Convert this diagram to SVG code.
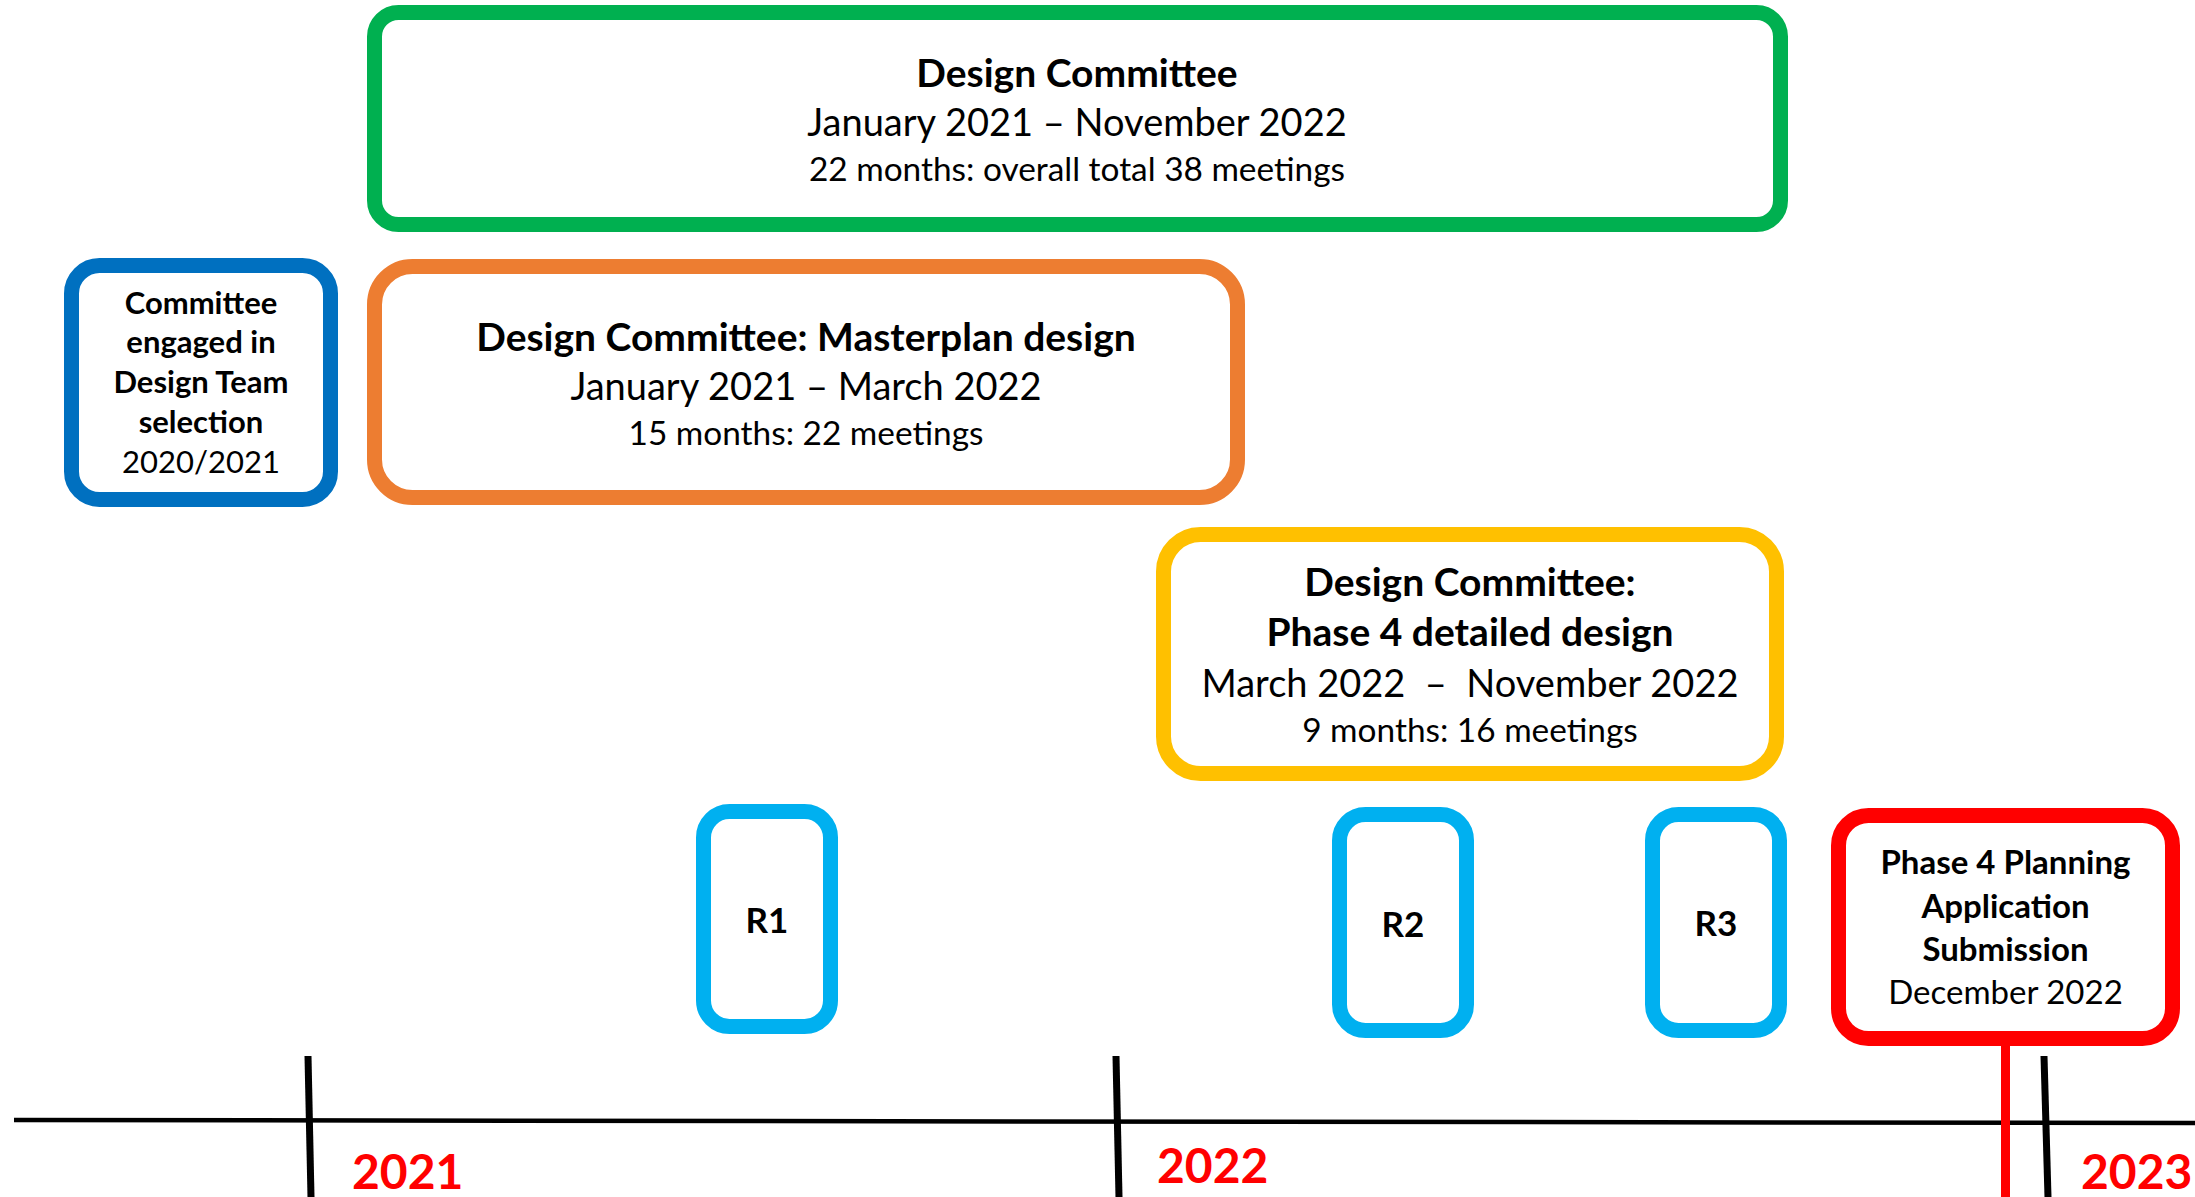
<svg xmlns="http://www.w3.org/2000/svg" width="2195" height="1197" viewBox="0 0 2195 1197">
  <style>
    .box { fill: #FFFFFF; stroke-width: 15; }
    .green { stroke: #00B050; }
    .orange { stroke: #ED7D31; }
    .blue { stroke: #0070C0; }
    .yellow { stroke: #FFC000; }
    .cyan { stroke: #00B0F0; }
    .red { stroke: #FF0000; }
    text { font-family: Lato, "Liberation Sans", sans-serif; fill: #000000; text-anchor: middle; }
    .b { font-weight: bold; }
    .head { font-weight: bold; font-size: 39px; }
    .dates { font-size: 38px; }
    .count { font-size: 33.4px; }
    .small { font-size: 31px; }
    .note { font-size: 33px; }
    .tag { font-weight: bold; font-size: 35px; }
    .year { font-weight: bold; fill: #FF0000; font-size: 48px; text-anchor: start; }
    .axis { stroke: #000000; fill: none; }
  </style>
  <rect width="2195" height="1197" fill="#FFFFFF"/>

  <!-- timeline axis, year ticks and the submission stem -->
  <g id="connectors">
    <line class="axis" x1="14" y1="1120" x2="2195" y2="1123" stroke-width="4.5"/>
    <line class="axis" x1="308" y1="1056" x2="311" y2="1197" stroke-width="7"/>
    <line class="axis" x1="1116" y1="1056" x2="1119" y2="1197" stroke-width="7"/>
    <line class="axis" x1="2044" y1="1056" x2="2048" y2="1197" stroke-width="7"/>
    <line x1="2005.5" y1="1046" x2="2005.5" y2="1197" stroke="#FF0000" stroke-width="9"/>
  </g>

  <g id="year-labels">
    <text class="year" x="352" y="1189">2021</text>
    <text class="year" x="1157" y="1183">2022</text>
    <text class="year" x="2081" y="1189">2023</text>
  </g>

  <g id="design-committee">
    <rect class="box green" x="374.5" y="12.5" width="1406" height="212" rx="24"/>
    <text class="head" x="1077" y="87">Design Committee</text>
    <text class="dates" x="1077" y="136">January 2021 – November 2022</text>
    <text class="count" x="1077" y="181">22 months: overall total 38 meetings</text>
  </g>

  <g id="team-selection">
    <rect class="box blue" x="71.5" y="265.5" width="259" height="234" rx="28"/>
    <text class="b small" x="201" y="314">Committee</text>
    <text class="b small" x="201" y="353">engaged in</text>
    <text class="b small" x="201" y="393">Design Team</text>
    <text class="b small" x="201" y="433">selection</text>
    <text class="small" x="201" y="473">2020/2021</text>
  </g>

  <g id="masterplan-design">
    <rect class="box orange" x="374.5" y="266.5" width="863" height="231" rx="38"/>
    <text class="head" x="806" y="351">Design Committee: Masterplan design</text>
    <text class="dates" x="806" y="400">January 2021 – March 2022</text>
    <text class="count" x="806" y="445">15 months: 22 meetings</text>
  </g>

  <g id="detailed-design">
    <rect class="box yellow" x="1163.5" y="534.5" width="613" height="239" rx="37"/>
    <text class="head" x="1470" y="596">Design Committee:</text>
    <text class="head" x="1470" y="646">Phase 4 detailed design</text>
    <text class="dates" x="1470" y="697" xml:space="preserve">March 2022  –  November 2022</text>
    <text class="count" x="1470" y="742">9 months: 16 meetings</text>
  </g>

  <g id="r1">
    <rect class="box cyan" x="703.5" y="811.5" width="127" height="215" rx="26"/>
    <text class="tag" x="767" y="933">R1</text>
  </g>

  <g id="r2">
    <rect class="box cyan" x="1339.5" y="814.5" width="127" height="216" rx="26"/>
    <text class="tag" x="1403" y="937">R2</text>
  </g>

  <g id="r3">
    <rect class="box cyan" x="1652.5" y="814.5" width="127" height="216" rx="26"/>
    <text class="tag" x="1716" y="936">R3</text>
  </g>

  <g id="planning-submission">
    <rect class="box red" x="1838.5" y="815.5" width="334" height="223" rx="30"/>
    <text class="b note" x="2005.5" y="874">Phase 4 Planning</text>
    <text class="b note" x="2005.5" y="918">Application</text>
    <text class="b note" x="2005.5" y="961">Submission</text>
    <text class="note" x="2005.5" y="1004">December 2022</text>
  </g>
</svg>
